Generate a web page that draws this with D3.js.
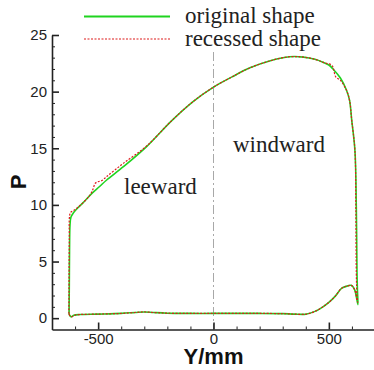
<!DOCTYPE html>
<html>
<head>
<meta charset="utf-8">
<script src="https://cdn.jsdelivr.net/npm/d3@7"></script>
<style>
  body { margin: 0; background: #fff; }
  svg { display: block; }
</style>
</head>
<body>
<svg id="chart"></svg>
<script>
// P along the section (Y in mm)
var origY = [-626, -625, -624, -622, -618, -607, -590, -560, -528, -495, -463, -392, -290, -183, -90, 0, 80, 158, 250, 330, 390, 440, 474, 500, 518, 550, 577, 590, 599, 613, 619, 622, 624, 626,
             620, 612, 597, 582, 556, 528, 500, 471, 440, 400, 350, 300, 200, 100, 0, -100, -200, -260, -300, -340, -400, -500, -580, -605, -615, -621, -626];
var origP = [0.4, 3.0, 6.0, 8.2, 8.9, 9.3, 9.7, 10.3, 11.0, 11.6, 12.2, 13.35, 15.15, 17.4, 19.1, 20.4, 21.3, 22.1, 22.75, 23.08, 23.05, 22.85, 22.6, 22.35, 22.0, 21.2, 20.1, 19.2, 17.5, 14.8, 9.8, 4.0, 2.4, 1.2,
             1.8, 2.5, 2.9, 2.85, 2.65, 1.95, 1.4, 0.96, 0.6, 0.35, 0.36, 0.4, 0.42, 0.42, 0.42, 0.42, 0.44, 0.5, 0.55, 0.5, 0.42, 0.36, 0.32, 0.25, 0.12, 0.18, 0.4];

var recY = [-627, -626, -625, -624, -619, -607, -590, -560, -534, -522, -513, -500, -484, -460, -392, -290, -183, -90, 0, 80, 158, 250, 330, 390, 440, 474, 490, 514, 530, 550, 577, 590, 599, 613, 617, 619, 622, 625,
            620, 612, 597, 582, 556, 528, 500, 471, 440, 400, 350, 300, 200, 100, 0, -100, -200, -260, -300, -340, -400, -500, -580, -605, -615, -621, -627];
var recP = [0.4, 4.0, 7.0, 9.0, 9.35, 9.5, 9.75, 10.3, 10.9, 11.4, 11.9, 12.05, 12.15, 12.55, 13.65, 15.2, 17.4, 19.1, 20.4, 21.3, 22.1, 22.75, 23.08, 23.05, 22.85, 22.6, 22.5, 22.3, 21.3, 21.0, 20.1, 19.2, 17.5, 14.8, 9.8, 4.0, 2.0, 1.4,
            1.8, 2.5, 2.9, 2.85, 2.65, 1.95, 1.4, 0.96, 0.6, 0.35, 0.36, 0.4, 0.42, 0.42, 0.42, 0.42, 0.44, 0.5, 0.55, 0.5, 0.42, 0.36, 0.32, 0.25, 0.12, 0.18, 0.4];

var xMajor = [-500, 0, 500];
var yMajor = [0, 5, 10, 15, 20, 25];
var seriesNames = ["original shape", "recessed shape"];

var width = 374, height = 370;
var svg = d3.select("#chart")
    .attr("width", width)
    .attr("height", height);

var x = d3.scaleLinear().domain([-700, 700]).range([52, 375]);
var y = d3.scaleLinear().domain([-1, 25]).range([329.5, 35]);

var green = "#1fd41f", red = "#dd1a1a";

// zero line (dash-dot)
svg.append("line")
    .attr("x1", x(0)).attr("x2", x(0))
    .attr("y1", 52).attr("y2", y(-1))
    .style("stroke", "#a8a8a8")
    .style("stroke-width", 1)
    .style("stroke-dasharray", "9,3,2,3");

// minor ticks
var axisColor = "#222";
var xMinor = d3.range(-700, 701, 100).filter(function(d) { return xMajor.indexOf(d) < 0; });
var yMinor = d3.range(0, 25, 1).filter(function(d) { return yMajor.indexOf(d) < 0; });

svg.append("g")
    .attr("transform", "translate(0," + y(-1) + ")")
    .call(d3.axisBottom(x).tickValues(xMinor).tickSizeInner(-3).tickSizeOuter(0).tickFormat(""))
    .call(function(g) { g.select(".domain").remove(); })
    .selectAll("line").style("stroke", axisColor);

svg.append("g")
    .attr("transform", "translate(" + x(-700) + ",0)")
    .call(d3.axisLeft(y).tickValues(yMinor).tickSizeInner(-3).tickSizeOuter(0).tickFormat(""))
    .call(function(g) { g.select(".domain").remove(); })
    .selectAll("line").style("stroke", axisColor);

// major axes
var xAxis = svg.append("g")
    .attr("transform", "translate(0," + y(-1) + ")")
    .call(d3.axisBottom(x).tickValues(xMajor).tickSizeInner(-7).tickSizeOuter(0).tickPadding(4)
        .tickFormat(function(d) { return d < 0 ? "-" + Math.abs(d) : d; }));

var yAxis = svg.append("g")
    .attr("transform", "translate(" + x(-700) + ",0)")
    .call(d3.axisLeft(y).tickValues(yMajor).tickSizeInner(-7).tickSizeOuter(0).tickPadding(5));

[xAxis, yAxis].forEach(function(a) {
    a.select(".domain").style("stroke", axisColor).style("stroke-width", 1.6);
    a.selectAll(".tick line").style("stroke", axisColor).style("stroke-width", 1.6);
    a.selectAll("text")
        .style("font-family", "'Liberation Sans', Arial, sans-serif")
        .style("font-size", "15px")
        .style("fill", "#222");
});

// curves
var line = d3.line()
    .x(function(d) { return x(d[0]); })
    .y(function(d) { return y(d[1]); })
    .curve(d3.curveCatmullRom.alpha(0.5));

var origData = origY.map(function(v, i) { return [v, origP[i]]; });
var recData = recY.map(function(v, i) { return [v, recP[i]]; });

svg.append("path")
    .datum(origData)
    .attr("d", line)
    .style("fill", "none")
    .style("stroke", green)
    .style("stroke-width", 1.6);

svg.append("path")
    .datum(recData)
    .attr("d", line)
    .style("fill", "none")
    .style("stroke", red)
    .style("stroke-width", 1.2)
    .style("stroke-dasharray", "2,1.5");

// legend
var legend = svg.append("g");
seriesNames.forEach(function(name, i) {
    var by = 23 + i * 22.5;
    legend.append("line")
        .attr("x1", 84).attr("x2", 170)
        .attr("y1", by - 6.5).attr("y2", by - 6.5)
        .style("stroke", i === 0 ? green : red)
        .style("stroke-width", i === 0 ? 1.8 : 1.2)
        .style("stroke-dasharray", i === 0 ? null : "2,1.5");
    legend.append("text")
        .attr("x", 185)
        .attr("y", by)
        .style("font-family", "'Liberation Serif', 'Times New Roman', serif")
        .style("font-size", "23px")
        .style("fill", "#222")
        .text(name);
});

// region labels
svg.append("text")
    .attr("x", 233).attr("y", 152)
    .style("font-family", "'Liberation Serif', 'Times New Roman', serif")
    .style("font-size", "23px")
    .style("fill", "#222")
    .text("windward");

svg.append("text")
    .attr("x", 124).attr("y", 194)
    .style("font-family", "'Liberation Serif', 'Times New Roman', serif")
    .style("font-size", "23px")
    .style("fill", "#222")
    .text("leeward");

// axis titles
svg.append("text")
    .attr("x", x(0))
    .attr("y", 364)
    .attr("text-anchor", "middle")
    .style("font-family", "'Liberation Sans', Arial, sans-serif")
    .style("font-size", "22px")
    .style("font-weight", "bold")
    .style("fill", "#111")
    .text("Y/mm");

svg.append("text")
    .attr("transform", "translate(26,182) rotate(-90)")
    .attr("text-anchor", "middle")
    .style("font-family", "'Liberation Sans', Arial, sans-serif")
    .style("font-size", "22px")
    .style("font-weight", "bold")
    .style("fill", "#111")
    .text("P");
</script>
</body>
</html>
